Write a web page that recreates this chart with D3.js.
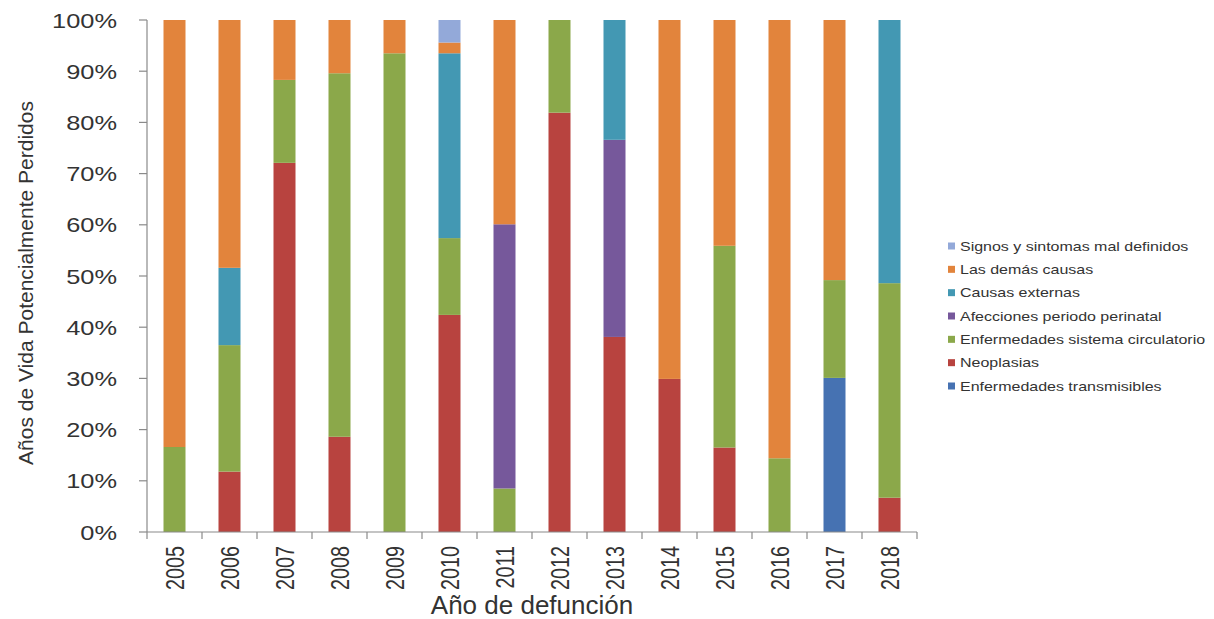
<!DOCTYPE html>
<html><head><meta charset="utf-8">
<script src="https://cdn.jsdelivr.net/npm/d3@7"></script>
<style>
html,body{margin:0;padding:0;background:#fff;}
svg{display:block;font-family:"Liberation Sans",Arial,sans-serif;}
</style></head>
<body>
<svg id="chart" width="1214" height="619"></svg>
<script>
const years = ["2005","2006","2007","2008","2009","2010","2011","2012","2013","2014","2015","2016","2017","2018"];
const seriesNames = ["Enfermedades transmisibles","Neoplasias","Enfermedades sistema circulatorio","Afecciones periodo perinatal","Causas externas","Las demás causas","Signos y sintomas mal definidos"];
const seriesColors = ["#4672B2","#B8433F","#8BA84A","#76589B","#4398B3","#E2843C","#93A9D9"];
const transmisibles = [0,0,0,0,0,0,0,0,0,0,0,0,30.1,0];
const neoplasias    = [0,11.8,72.1,18.6,0,42.4,0,81.9,38.1,29.9,16.5,0,0,6.7];
const circulatorio  = [16.6,24.7,16.2,71.0,93.5,15.0,8.5,18.1,0,0,39.4,14.4,19.1,41.9];
const perinatal     = [0,0,0,0,0,0,51.6,0,38.5,0,0,0,0,0];
const externas      = [0,15.1,0,0,0,36.1,0,0,23.4,0,0,0,0,51.4];
const demas         = [83.4,48.4,11.7,10.4,6.5,2.1,39.9,0,0,70.1,44.1,85.6,50.8,0];
const signos        = [0,0,0,0,0,4.4,0,0,0,0,0,0,0,0];
const yTicks = [0,10,20,30,40,50,60,70,80,90,100];
const legendOrder = [6,5,4,3,2,1,0];

const seriesValues = [transmisibles,neoplasias,circulatorio,perinatal,externas,demas,signos];
const rows = years.map((yr,i)=>{ const r={year:yr}; seriesNames.forEach((n,k)=>r[n]=seriesValues[k][i]); return r; });
const stacked = d3.stack().keys(seriesNames)(rows);

const svg = d3.select("#chart");
const L=147, R=917, T=20, B=532;
const x = d3.scaleBand().domain(years).range([L,R]).paddingInner(0.6).paddingOuter(0.3);
const y = d3.scaleLinear().domain([0,100]).range([B,T]);
const color = d3.scaleOrdinal().domain(seriesNames).range(seriesColors);
const axisColor="#8a8a8a", textColor="#333";

// bars
svg.append("g").selectAll("g").data(stacked).join("g")
  .attr("fill",d=>color(d.key))
  .selectAll("rect").data(d=>d).join("rect")
  .attr("x",d=>x(d.data.year)).attr("width",x.bandwidth())
  .attr("y",d=>y(d[1])).attr("height",d=>Math.max(0,y(d[0])-y(d[1])));

// y axis
const ya = svg.append("g");
ya.append("line").attr("x1",L).attr("x2",L).attr("y1",T).attr("y2",B).attr("stroke",axisColor).attr("stroke-width",1.2);
ya.selectAll("line.t").data(yTicks).join("line").attr("class","t")
  .attr("x1",L-8).attr("x2",L).attr("y1",d=>y(d)).attr("y2",d=>y(d)).attr("stroke",axisColor).attr("stroke-width",1.2);
ya.selectAll("text").data(yTicks).join("text")
  .attr("transform",d=>`translate(117,${y(d)}) scale(1.21,1)`)
  .attr("text-anchor","end").attr("dy","0.36em")
  .attr("font-size",21).attr("fill",textColor).text(d=>d+"%");

// x axis
const xa = svg.append("g");
xa.append("line").attr("x1",L).attr("x2",R).attr("y1",B).attr("y2",B).attr("stroke",axisColor).attr("stroke-width",1.2);
const bounds = d3.range(years.length+1).map(i=>L+i*x.step());
xa.selectAll("line.t").data(bounds).join("line").attr("class","t")
  .attr("x1",d=>d).attr("x2",d=>d).attr("y1",B).attr("y2",B+7).attr("stroke",axisColor).attr("stroke-width",1.2);
xa.selectAll("text").data(years).join("text")
  .attr("transform",d=>`translate(${x(d)+x.bandwidth()/2},546) rotate(-90) scale(0.76,1)`)
  .attr("text-anchor","end").attr("dy","0.36em")
  .attr("font-size",26).attr("fill",textColor).text(d=>d);

// titles
svg.append("text").attr("x",(L+R)/2).attr("y",614).attr("text-anchor","middle")
  .attr("font-size",26).attr("fill",textColor).text("Año de defunción");
svg.append("text").attr("transform","translate(33,283) rotate(-90)").attr("text-anchor","middle")
  .attr("font-size",21).attr("fill",textColor).text("Años de Vida Potencialmente Perdidos");

// legend
const lg = svg.append("g");
const ly = d3.scalePoint().domain(legendOrder.map(i=>seriesNames[i])).range([246,386]);
legendOrder.forEach(i=>{
  const n=seriesNames[i], cy=ly(n);
  lg.append("rect").attr("x",948).attr("y",cy-3.5).attr("width",7).attr("height",7).attr("fill",color(n));
  lg.append("text").attr("transform",`translate(960,${cy}) scale(1.23,1)`).attr("dy","0.35em")
    .attr("font-size",13).attr("fill",textColor).text(n);
});
</script>
</body></html>
